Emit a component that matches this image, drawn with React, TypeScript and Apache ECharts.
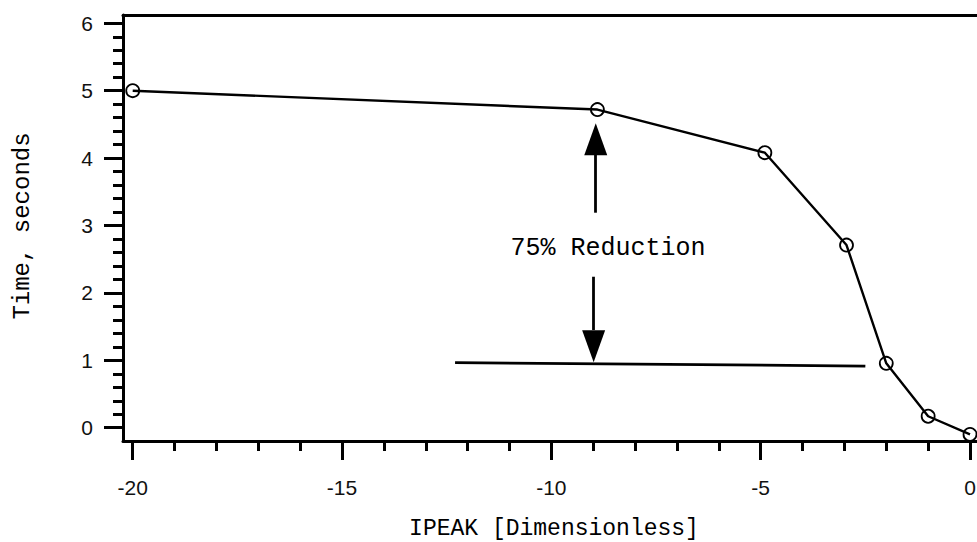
import React, { useEffect, useRef } from "react";
import * as echarts from "echarts";

// ---- data ----
const ipeak = [-20, -8.9, -4.9, -2.95, -2, -1, 0];
const timeSeconds = [5.0, 4.72, 4.08, 2.71, 0.955, 0.17, -0.1];

const xMajorTicks = [-20, -15, -10, -5, 0];
const xMinorTicks = [-19, -18, -17, -16, -14, -13, -12, -11, -9, -8, -7, -6, -4, -3, -2, -1];
const yMajorTicks = [0, 1, 2, 3, 4, 5, 6];
const yMinorTicks = [0.2, 0.4, 0.6, 0.8, 1.2, 1.4, 1.6, 1.8, 2.2, 2.4, 2.6, 2.8, 3.2, 3.4, 3.6, 3.8, 4.2, 4.4, 4.6, 4.8, 5.2, 5.4, 5.6, 5.8];

// annotation: 75% reduction level line and arrows
const refLineX = [-12.3, -2.5];
const refLineY = [0.965, 0.915];
const upArrowX = -8.94;
const upArrowShaftY = [3.19, 4.05];
const upArrowHeadY = 4.28;
const downArrowX = -8.99;
const downArrowShaftY = [2.24, 1.45];
const downArrowHeadY = 1.21;
const annotationText = "75% Reduction";

const X_MIN = -20.232;
const X_MAX = 0.358;
const Y_MIN = -0.197;
const Y_MAX = 6.123;

export default function App() {
  const ref = useRef<HTMLDivElement>(null);

  useEffect(() => {
    if (!ref.current) return;
    const chart = echarts.init(ref.current, undefined, { renderer: "svg" });
    const gridRect = { left: 123, top: 15, width: 862, height: 426 };
    const labelFont = { fontFamily: "Liberation Sans", fontSize: 21, color: "#111" };

    const option: any = {
      animation: false,
      backgroundColor: "#fff",
      grid: [
        { ...gridRect, outerBoundsMode: "none", containLabel: false },
        { ...gridRect, outerBoundsMode: "none", containLabel: false },
      ],
      xAxis: [
        {
          type: "value",
          gridIndex: 0,
          position: "bottom",
          min: X_MIN,
          max: X_MAX,
          axisLine: { show: true, onZero: false, lineStyle: { color: "#000", width: 3 } },
          axisTick: {
            show: true,
            inside: false,
            length: 19,
            customValues: xMajorTicks,
            lineStyle: { color: "#000", width: 3 },
          },
          axisLabel: {
            show: true,
            customValues: xMajorTicks,
            margin: 36,
            formatter: (v: number) => String(Math.round(v)),
            ...labelFont,
          },
          splitLine: { show: false },
          minorTick: { show: false },
        },
        {
          type: "value",
          gridIndex: 0,
          position: "top",
          min: X_MIN,
          max: X_MAX,
          axisLine: { show: true, onZero: false, lineStyle: { color: "#000", width: 3 } },
          axisTick: { show: false },
          axisLabel: { show: false },
          splitLine: { show: false },
        },
        {
          type: "value",
          gridIndex: 1,
          position: "bottom",
          min: X_MIN,
          max: X_MAX,
          axisLine: { show: false, onZero: false },
          axisTick: {
            show: true,
            inside: false,
            length: 10,
            customValues: xMinorTicks,
            lineStyle: { color: "#000", width: 3 },
          },
          axisLabel: { show: false },
          splitLine: { show: false },
        },
      ],
      yAxis: [
        {
          type: "value",
          gridIndex: 0,
          position: "left",
          min: Y_MIN,
          max: Y_MAX,
          axisLine: { show: true, onZero: false, lineStyle: { color: "#000", width: 3 } },
          axisTick: {
            show: true,
            inside: false,
            length: 19,
            customValues: yMajorTicks,
            lineStyle: { color: "#000", width: 3 },
          },
          axisLabel: {
            show: true,
            customValues: yMajorTicks,
            margin: 30,
            formatter: (v: number) => String(Math.round(v)),
            ...labelFont,
          },
          splitLine: { show: false },
        },
        {
          type: "value",
          gridIndex: 1,
          position: "left",
          min: Y_MIN,
          max: Y_MAX,
          axisLine: { show: false, onZero: false },
          axisTick: {
            show: true,
            inside: false,
            length: 10,
            customValues: yMinorTicks,
            lineStyle: { color: "#000", width: 3 },
          },
          axisLabel: { show: false },
          splitLine: { show: false },
        },
      ],
      series: [
        {
          type: "line",
          xAxisIndex: 0,
          yAxisIndex: 0,
          data: ipeak.map((x, i) => [x, timeSeconds[i]]),
          symbol: "circle",
          symbolSize: 13,
          showSymbol: true,
          itemStyle: { color: "none", borderColor: "#000", borderWidth: 1.8, opacity: 1 },
          lineStyle: { color: "#000", width: 2.4, opacity: 1 },
          silent: true,
          z: 3,
        },
        {
          type: "scatter",
          xAxisIndex: 0,
          yAxisIndex: 0,
          symbol: "triangle",
          symbolSize: [23, 32],
          itemStyle: { color: "#000", opacity: 1 },
          silent: true,
          data: [
            { value: [upArrowX, upArrowHeadY], symbolRotate: 0 },
            { value: [downArrowX, downArrowHeadY], symbolRotate: 180 },
          ],
          markLine: {
            silent: true,
            symbol: ["none", "none"],
            label: { show: false },
            lineStyle: { color: "#000", width: 2.8, type: "solid", opacity: 1 },
            emphasis: { disabled: true },
            data: [
              [{ coord: [refLineX[0], refLineY[0]] }, { coord: [refLineX[1], refLineY[1]] }],
              [{ coord: [upArrowX, upArrowShaftY[0]] }, { coord: [upArrowX, upArrowShaftY[1]] }],
              [{ coord: [downArrowX, downArrowShaftY[0]] }, { coord: [downArrowX, downArrowShaftY[1]] }],
            ],
          },
        },
      ],
      graphic: [
        {
          type: "text",
          x: 608,
          y: 248,
          silent: true,
          style: {
            text: annotationText,
            font: '25px "Liberation Mono"',
            fill: "#000",
            textAlign: "center",
            textVerticalAlign: "middle",
          },
        },
        {
          type: "text",
          x: 554,
          y: 529,
          silent: true,
          style: {
            text: "IPEAK [Dimensionless]",
            font: '23px "Liberation Mono"',
            fill: "#000",
            textAlign: "center",
            textVerticalAlign: "middle",
          },
        },
        {
          type: "text",
          x: 22,
          y: 226,
          rotation: Math.PI / 2,
          silent: true,
          style: {
            text: "Time, seconds",
            font: '24px "Liberation Mono"',
            fill: "#000",
            textAlign: "center",
            textVerticalAlign: "middle",
          },
        },
      ],
    };

    chart.setOption(option);
    return () => chart.dispose();
  }, []);

  return (
    <div
      ref={ref}
      style={{ position: "fixed", left: 0, top: 0, width: 977, height: 542, background: "#fff" }}
    />
  );
}
